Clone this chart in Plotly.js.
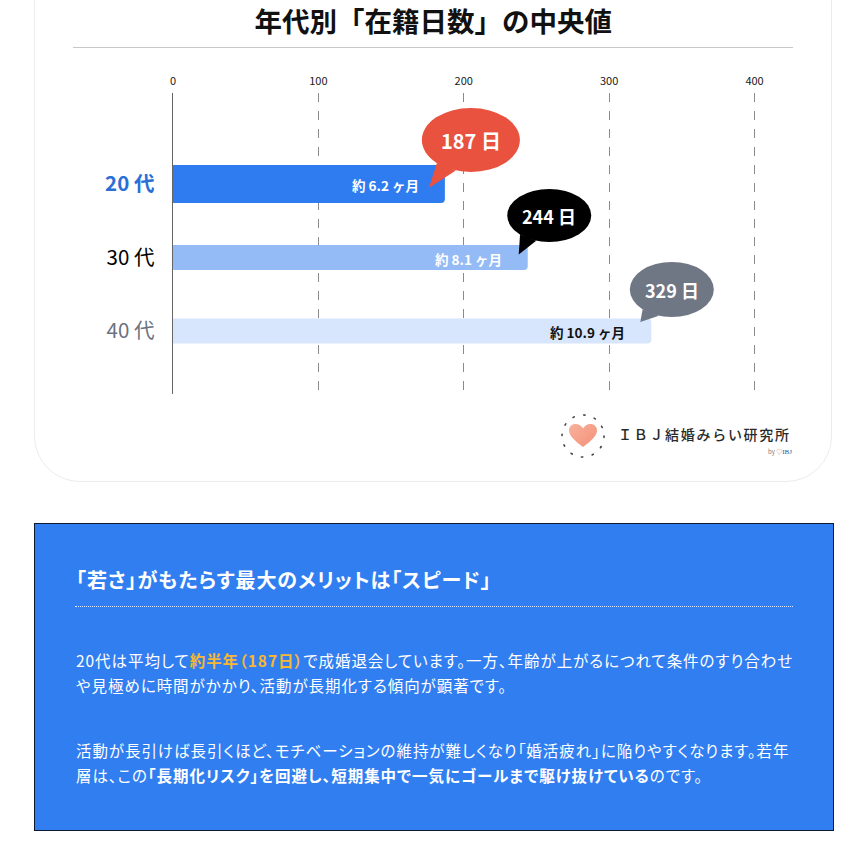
<!DOCTYPE html>
<html>
<head>
<meta charset="utf-8">
<script src="https://cdn.plot.ly/plotly-3.0.1.min.js"></script>
<style>
  html, body { margin:0; padding:0; background:#ffffff; }
  body { width:853px; height:845px; position:relative; overflow:hidden; font-family:"Noto Sans CJK JP","Noto Sans",sans-serif; }
  #card { position:absolute; left:34px; top:-20px; width:798px; height:502px; background:#fff; border:1px solid #ececec; border-radius:0 0 46px 46px; box-sizing:border-box; }
  #rule { position:absolute; left:73px; top:47px; width:720px; height:0; border-top:1.5px solid #c8c8c8; }
  #chart { position:absolute; left:0; top:0; width:853px; height:490px; }
  #logo { position:absolute; left:560px; top:412px; width:260px; height:50px; }
  #logo svg { position:absolute; left:0; top:0; }
  #logoText { position:absolute; left:58px; top:13px; font-size:14px; letter-spacing:1.7px; color:#2a2a2a; white-space:nowrap; line-height:18px; font-weight:500; }
  #logoBy { position:absolute; left:208px; top:35px; font-size:6px; color:#777; white-space:nowrap; }
  #logoBy b { color:#2b5aa8; font-family:"Liberation Serif",serif; font-weight:normal; font-size:7px; }
  #box { position:absolute; left:34px; top:523px; width:800px; height:308px; background:#317ef0; border:1px solid #0c1a36; box-sizing:border-box; color:#fff; font-feature-settings:"palt"; }
  #box h2 { position:absolute; left:41px; top:43px; margin:0; font-size:20px; font-weight:bold; line-height:26px; white-space:nowrap; letter-spacing:0.95px; }
  #dots { position:absolute; left:40px; top:82px; width:718px; height:0; border-top:1.5px dotted rgba(255,255,255,0.85); }
  .p { position:absolute; left:41px; margin:0; font-size:15.5px; line-height:25px; white-space:nowrap; letter-spacing:0.95px; }
  #p1 { top:124px; }
  #p2 { top:214px; }
  .gold { color:#f7b733; font-weight:bold; }
</style>
</head>
<body>
<div id="card"></div>
<div id="rule"></div>
<div id="chart"></div>
<div id="logo">
  <svg width="48" height="48" viewBox="0 0 48 48">
    <circle cx="23" cy="24" r="21" fill="none" stroke="#444" stroke-width="1.6" stroke-dasharray="1.4 9.6" stroke-linecap="round"/>
    <defs><linearGradient id="hg" x1="0" y1="0" x2="1" y2="1"><stop offset="0" stop-color="#f8b29c"/><stop offset="1" stop-color="#f48f78"/></linearGradient></defs>
    <path d="M23 35 C15 29 9 24 9 18.5 C9 14.5 12 12 15.5 12 C19 12 21.5 14 23 16.5 C24.5 14 27 12 30.5 12 C34 12 37 14.5 37 18.5 C37 24 31 29 23 35 Z" fill="url(#hg)"/>
  </svg>
  <div id="logoText">ＩＢＪ結婚みらい研究所</div>
  <div id="logoBy">by <span style="color:#e0707a">♡</span><b>IBJ</b></div>
</div>
<div id="box">
  <h2>「若さ」がもたらす最大のメリットは「スピード」</h2>
  <div id="dots"></div>
  <p class="p" id="p1">20代は平均して<span class="gold">約半年（187日）</span>で成婚退会しています。一方、年齢が上がるにつれて条件のすり合わせ<br>や見極めに時間がかかり、活動が長期化する傾向が顕著です。</p>
  <p class="p" id="p2">活動が長引けば長引くほど、モチベーションの維持が難しくなり「婚活疲れ」に陥りやすくなります。若年<br>層は、この<b>「長期化リスク」を回避し、短期集中で一気にゴールまで駆け抜けている</b>のです。</p>
</div>
<script>
// ---- data ----
const categories = ['20 代', '30 代', '40 代'];
const days = [187, 244, 329];
const months = [6.2, 8.1, 10.9];
const xTicks = [0, 100, 200, 300, 400];
const chartTitle = '年代別「在籍日数」の中央値';

// ---- styles ----
const FONT = '"Noto Sans CJK JP", "Noto Sans", sans-serif';
const barColors = ['#2f7cf0', '#94bbf6', '#d7e6fc'];
const barWidths = [0.52, 0.34, 0.34];
const labelStyles = [
  {color:'#2b6fd6', bold:true},
  {color:'#000000', bold:false},
  {color:'#6b7280', bold:false}
];
const barTextColors = ['#ffffff', '#ffffff', '#111111'];
const bubbleStyle = [
  {color:'#e8523f', rx:49, ry:32, dx:26, dy:44, tx:-16, ty:-4, size:20},
  {color:'#000000', rx:42, ry:26.5, dx:21.5, dy:42, tx:-9, ty:3, size:18},
  {color:'#6f7684', rx:42, ry:27.5, dx:20.5, dy:41.5, tx:-11, ty:9, size:18}
];

const trace = {
  type:'bar', orientation:'h',
  x: days, y: categories,
  width: barWidths,
  marker:{color: barColors, cornerradius: 4, line:{width:0}},
  textposition:'none', hoverinfo:'skip'
};

const tickText = categories.map((c, i) => {
  const s = labelStyles[i];
  const inner = s.bold ? '<b>' + c + '</b>' : c;
  return '<span style="color:' + s.color + '">' + inner + '</span>';
});

const shapes = [];
const annotations = [];
days.forEach((v, i) => {
  const b = bubbleStyle[i];
  shapes.push({
    type:'circle', xref:'x', yref:'y', xsizemode:'pixel', ysizemode:'pixel',
    xanchor: v, yanchor: i,
    x0: b.dx - b.rx, x1: b.dx + b.rx, y0: b.dy - b.ry, y1: b.dy + b.ry,
    fillcolor: b.color, line:{width:0}, layer:'above'
  });
  const a1 = 226 * Math.PI / 180, a2 = 252 * Math.PI / 180;
  const p1x = b.dx + b.rx * Math.cos(a1), p1y = b.dy + b.ry * Math.sin(a1);
  const p2x = b.dx + b.rx * Math.cos(a2), p2y = b.dy + b.ry * Math.sin(a2);
  shapes.push({
    type:'path', xref:'x', yref:'y', xsizemode:'pixel', ysizemode:'pixel',
    xanchor: v, yanchor: i,
    path: 'M' + b.tx + ',' + b.ty + ' L' + p1x.toFixed(1) + ',' + p1y.toFixed(1) + ' L' + p2x.toFixed(1) + ',' + p2y.toFixed(1) + ' Z',
    fillcolor: b.color, line:{width:0}, layer:'above'
  });
  annotations.push({
    x: v, y: categories[i], xref:'x', yref:'y', showarrow:false,
    xshift: b.dx, yshift: b.dy,
    text: '<b>' + v + ' 日</b>',
    font:{family: FONT, size: b.size, color:'#ffffff'}
  });
  annotations.push({
    x: v, y: categories[i], xref:'x', yref:'y', showarrow:false,
    xanchor:'right', xshift:-24, yshift:-1,
    text: '<b>約 ' + months[i] + ' ヶ月</b>',
    font:{family: FONT, size: 13.5, color: barTextColors[i]}
  });
});

const layout = {
  width:853, height:490,
  margin:{l:173, r:97, t:93, b:96, pad:0},
  paper_bgcolor:'rgba(0,0,0,0)', plot_bgcolor:'rgba(0,0,0,0)',
  showlegend:false,
  title:{text: chartTitle, x:0.508, xanchor:'center', y:0.955, yanchor:'middle', yref:'container',
         font:{family: FONT, size:27.5, color:'#111111', weight:'bold'}},
  xaxis:{
    side:'top', range:[0, 401], tickvals: xTicks, ticktext: xTicks.map(String),
    showgrid:true, gridcolor:'#8a8a8a', griddash:'dash', gridwidth:1,
    zeroline:false, showline:false, ticks:'', ticklabelstandoff:5,
    tickfont:{family: FONT, size:11, color:'#1a1a1a'}, fixedrange:true
  },
  yaxis:{
    type:'category', categoryarray: categories, categoryorder:'array',
    range:[2.857, -1.238], tickvals: categories, ticktext: tickText,
    showgrid:false, zeroline:false, showline:true, linecolor:'#666666', linewidth:1.5,
    ticks:'', ticklabelstandoff:13,
    tickfont:{family: FONT, size:20.5}, fixedrange:true
  },
  shapes: shapes,
  annotations: annotations
};

Plotly.newPlot('chart', [trace], layout, {displayModeBar:false, staticPlot:true});
</script>
</body>
</html>
